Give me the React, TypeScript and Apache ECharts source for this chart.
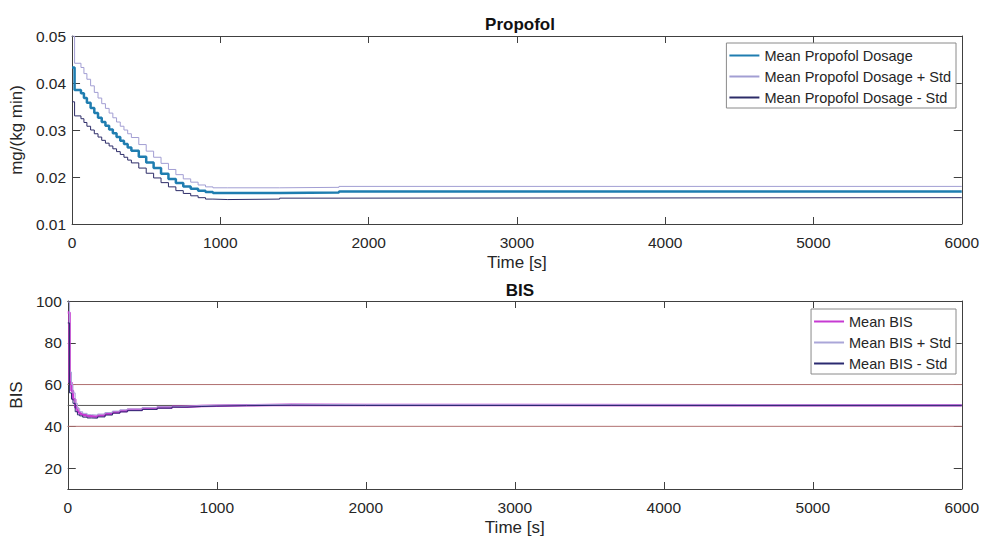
import React, { useEffect, useRef } from 'react';
import * as echarts from 'echarts';

// ---------- data ----------
const timeTicks = [0, 1000, 2000, 3000, 4000, 5000, 6000];

const propT = [0, 17, 60, 80, 100, 125, 150, 175, 200, 225, 250, 275, 300, 325, 350, 375, 400, 450, 500, 550, 600, 650, 700, 750, 800, 850, 900, 950, 1050, 1400, 1800, 6000];
const propMean = [0.0433, 0.0385, 0.0378, 0.0368, 0.0358, 0.0347, 0.0336, 0.0326, 0.0317, 0.0309, 0.0301, 0.0293, 0.0285, 0.0277, 0.0270, 0.0263, 0.0256, 0.0243, 0.0231, 0.0219, 0.0207, 0.0196, 0.0187, 0.0180, 0.0175, 0.0171, 0.0168, 0.0166, 0.0166, 0.0167, 0.0169, 0.0169];
const propUpper = [0.0500, 0.0442, 0.0433, 0.0420, 0.0408, 0.0394, 0.0380, 0.0368, 0.0356, 0.0346, 0.0336, 0.0326, 0.0317, 0.0308, 0.0300, 0.0292, 0.0284, 0.0269, 0.0255, 0.0242, 0.0229, 0.0216, 0.0205, 0.0196, 0.0189, 0.0183, 0.0179, 0.0177, 0.0177, 0.0178, 0.0180, 0.0180];
const propLower = [0.0360, 0.0330, 0.0324, 0.0316, 0.0308, 0.0300, 0.0292, 0.0285, 0.0278, 0.0272, 0.0266, 0.0260, 0.0254, 0.0248, 0.0242, 0.0236, 0.0230, 0.0219, 0.0208, 0.0198, 0.0188, 0.0179, 0.0171, 0.0165, 0.0160, 0.0156, 0.0153, 0.0152, 0.0153, 0.0155, 0.0156, 0.0156];
const propYMin = 0.01;
const propYMax = 0.05;
const propYStep = 0.01;

const bisT = [0, 12, 25, 35, 50, 65, 80, 100, 130, 160, 200, 250, 300, 350, 400, 500, 600, 700, 800, 900, 1000, 1200, 1500, 2000, 6000];
const bisMean = [94.5, 61, 57, 53, 49, 47, 46, 45.3, 44.8, 44.6, 45.2, 46.0, 46.8, 47.4, 47.9, 48.5, 49.0, 49.4, 49.7, 49.9, 50.1, 50.3, 50.2, 50.1, 50.0];
const bisUpper = [99.5, 66, 60, 56, 51, 48.5, 47, 46.2, 45.6, 45.4, 45.9, 46.6, 47.3, 47.9, 48.3, 48.9, 49.3, 49.6, 49.9, 50.1, 50.3, 50.5, 50.4, 50.2, 50.1];
const bisLower = [89.5, 56, 53, 51, 47, 45.5, 45, 44.4, 44.0, 43.9, 44.5, 45.4, 46.3, 46.9, 47.5, 48.1, 48.7, 49.2, 49.5, 49.7, 49.9, 50.1, 50.0, 49.9, 49.9];
const bisYTicks = [20, 40, 60, 80, 100];
const bisYMin = 10;
const bisYMax = 100;
const bisRefLevels = [40, 60, 50];

const propNames = ['Mean Propofol Dosage', 'Mean Propofol Dosage + Std', 'Mean Propofol Dosage - Std'];
const bisNames = ['Mean BIS', 'Mean BIS + Std', 'Mean BIS - Std'];

// ---------- styling ----------
const FONT = '"Liberation Sans", Arial, Helvetica, sans-serif';
const AX = '#404040';
const TXT = '#262626';

const zip = (xs: number[], ys: number[]) => xs.map((x, i) => [x, ys[i]]);

function xAxisPair(grid: number) {
  const xMin = timeTicks[0];
  const xMax = timeTicks[timeTicks.length - 1];
  const base = {
    type: 'value',
    gridIndex: grid,
    min: xMin,
    max: xMax,
    interval: timeTicks[1] - timeTicks[0],
    splitLine: { show: false },
    axisLine: { show: true, onZero: false, lineStyle: { color: AX, width: 1 } },
    axisTick: { show: true, inside: true, length: 7, lineStyle: { color: AX } },
  };
  return [
    {
      ...base,
      position: 'bottom',
      axisLabel: {
        show: true,
        margin: 10,
        fontSize: 15.5,
        color: TXT,
        fontFamily: FONT,
        formatter: (v: number) => String(v),
      },
      name: 'Time [s]',
      nameLocation: 'middle',
      nameGap: 30,
      nameTextStyle: { fontSize: 17, color: TXT, fontFamily: FONT },
    },
    { ...base, position: 'top', axisLabel: { show: false } },
  ];
}

function lineSeries(name: string, xi: number, data: number[][], color: string, width: number) {
  return {
    type: 'line',
    name,
    xAxisIndex: xi,
    yAxisIndex: xi,
    data,
    step: 'end',
    symbol: 'none',
    silent: true,
    lineStyle: { color, width },
    itemStyle: { color },
  };
}

export default function App() {
  const ref = useRef<HTMLDivElement>(null);

  useEffect(() => {
    if (!ref.current) return;
    const chart = echarts.init(ref.current, undefined, { renderer: 'svg' });

    const propYBase = {
      type: 'value',
      gridIndex: 0,
      min: propYMin,
      max: propYMax,
      interval: propYStep,
      splitLine: { show: false },
      axisLine: { show: true, onZero: false, lineStyle: { color: AX, width: 1 } },
      axisTick: { show: true, inside: true, length: 8, lineStyle: { color: AX } },
    };
    const bisYBase = {
      type: 'value',
      gridIndex: 1,
      min: bisYMin,
      max: bisYMax,
      splitLine: { show: false },
      axisLine: { show: true, onZero: false, lineStyle: { color: AX, width: 1 } },
      axisTick: { show: true, inside: true, length: 8, customValues: bisYTicks, lineStyle: { color: AX } },
    };

    const xMin = timeTicks[0];
    const xMax = timeTicks[timeTicks.length - 1];

    const legendBase = {
      orient: 'vertical',
      right: 26,
      backgroundColor: '#ffffff',
      borderColor: '#8a8a8a',
      borderWidth: 1,
      borderRadius: 0,
      padding: [5, 5, 3, 2],
      itemWidth: 30,
      itemHeight: 14,
      itemGap: 6,
      itemStyle: { opacity: 0 },
      textStyle: { fontSize: 14.5, color: TXT, fontFamily: FONT },
    };

    chart.setOption({
      animation: false,
      backgroundColor: '#ffffff',
      title: [
        {
          text: 'Propofol',
          left: 515,
          top: 11,
          textAlign: 'center',
          textStyle: { fontSize: 17, fontWeight: 'bold', color: '#111', fontFamily: FONT },
        },
        {
          text: 'BIS',
          left: 515,
          top: 277,
          textAlign: 'center',
          textStyle: { fontSize: 17, fontWeight: 'bold', color: '#111', fontFamily: FONT },
        },
      ],
      legend: [
        { ...legendBase, top: 43, data: propNames },
        { ...legendBase, top: 309, data: bisNames },
      ],
      grid: [
        { left: 67.5, right: 19, top: 36, height: 188 },
        { left: 67.5, right: 19, top: 301, height: 189 },
      ],
      xAxis: [...xAxisPair(0), ...xAxisPair(1)],
      yAxis: [
        {
          ...propYBase,
          position: 'left',
          axisLabel: { show: true, margin: 6, fontSize: 15.5, color: TXT, fontFamily: FONT },
          name: 'mg/(kg min)',
          nameLocation: 'middle',
          nameGap: 33,
          nameTextStyle: { fontSize: 17, color: TXT, fontFamily: FONT },
        },
        { ...propYBase, position: 'right', axisLabel: { show: false } },
        {
          ...bisYBase,
          position: 'left',
          axisLabel: { show: true, margin: 6, fontSize: 15.5, color: TXT, fontFamily: FONT, customValues: bisYTicks },
          name: 'BIS',
          nameLocation: 'middle',
          nameGap: 33,
          nameTextStyle: { fontSize: 17, color: TXT, fontFamily: FONT },
        },
        { ...bisYBase, position: 'right', axisLabel: { show: false } },
      ],
      series: [
        lineSeries(propNames[0], 0, zip(propT, propMean), '#1f7db0', 2.5),
        lineSeries(propNames[1], 0, zip(propT, propUpper), '#a29ed3', 1),
        lineSeries(propNames[2], 0, zip(propT, propLower), '#2d2c68', 1),
        ...bisRefLevels.map((lvl) => ({
          type: 'line',
          name: 'ref' + lvl,
          xAxisIndex: 2,
          yAxisIndex: 2,
          data: [[xMin, lvl], [xMax, lvl]],
          symbol: 'none',
          silent: true,
          lineStyle: { color: lvl === 50 ? '#555555' : '#b07070', width: 1 },
        })),
        lineSeries(bisNames[0], 2, zip(bisT, bisMean), '#c63ad2', 2.5),
        lineSeries(bisNames[1], 2, zip(bisT, bisUpper), '#aaa6d8', 1),
        lineSeries(bisNames[2], 2, zip(bisT, bisLower), '#2b2a70', 1),
      ],
    });

    return () => chart.dispose();
  }, []);

  return (
    <div
      ref={ref}
      style={{ position: 'fixed', left: 0, top: 0, width: 982, height: 537, background: '#fff' }}
    />
  );
}
